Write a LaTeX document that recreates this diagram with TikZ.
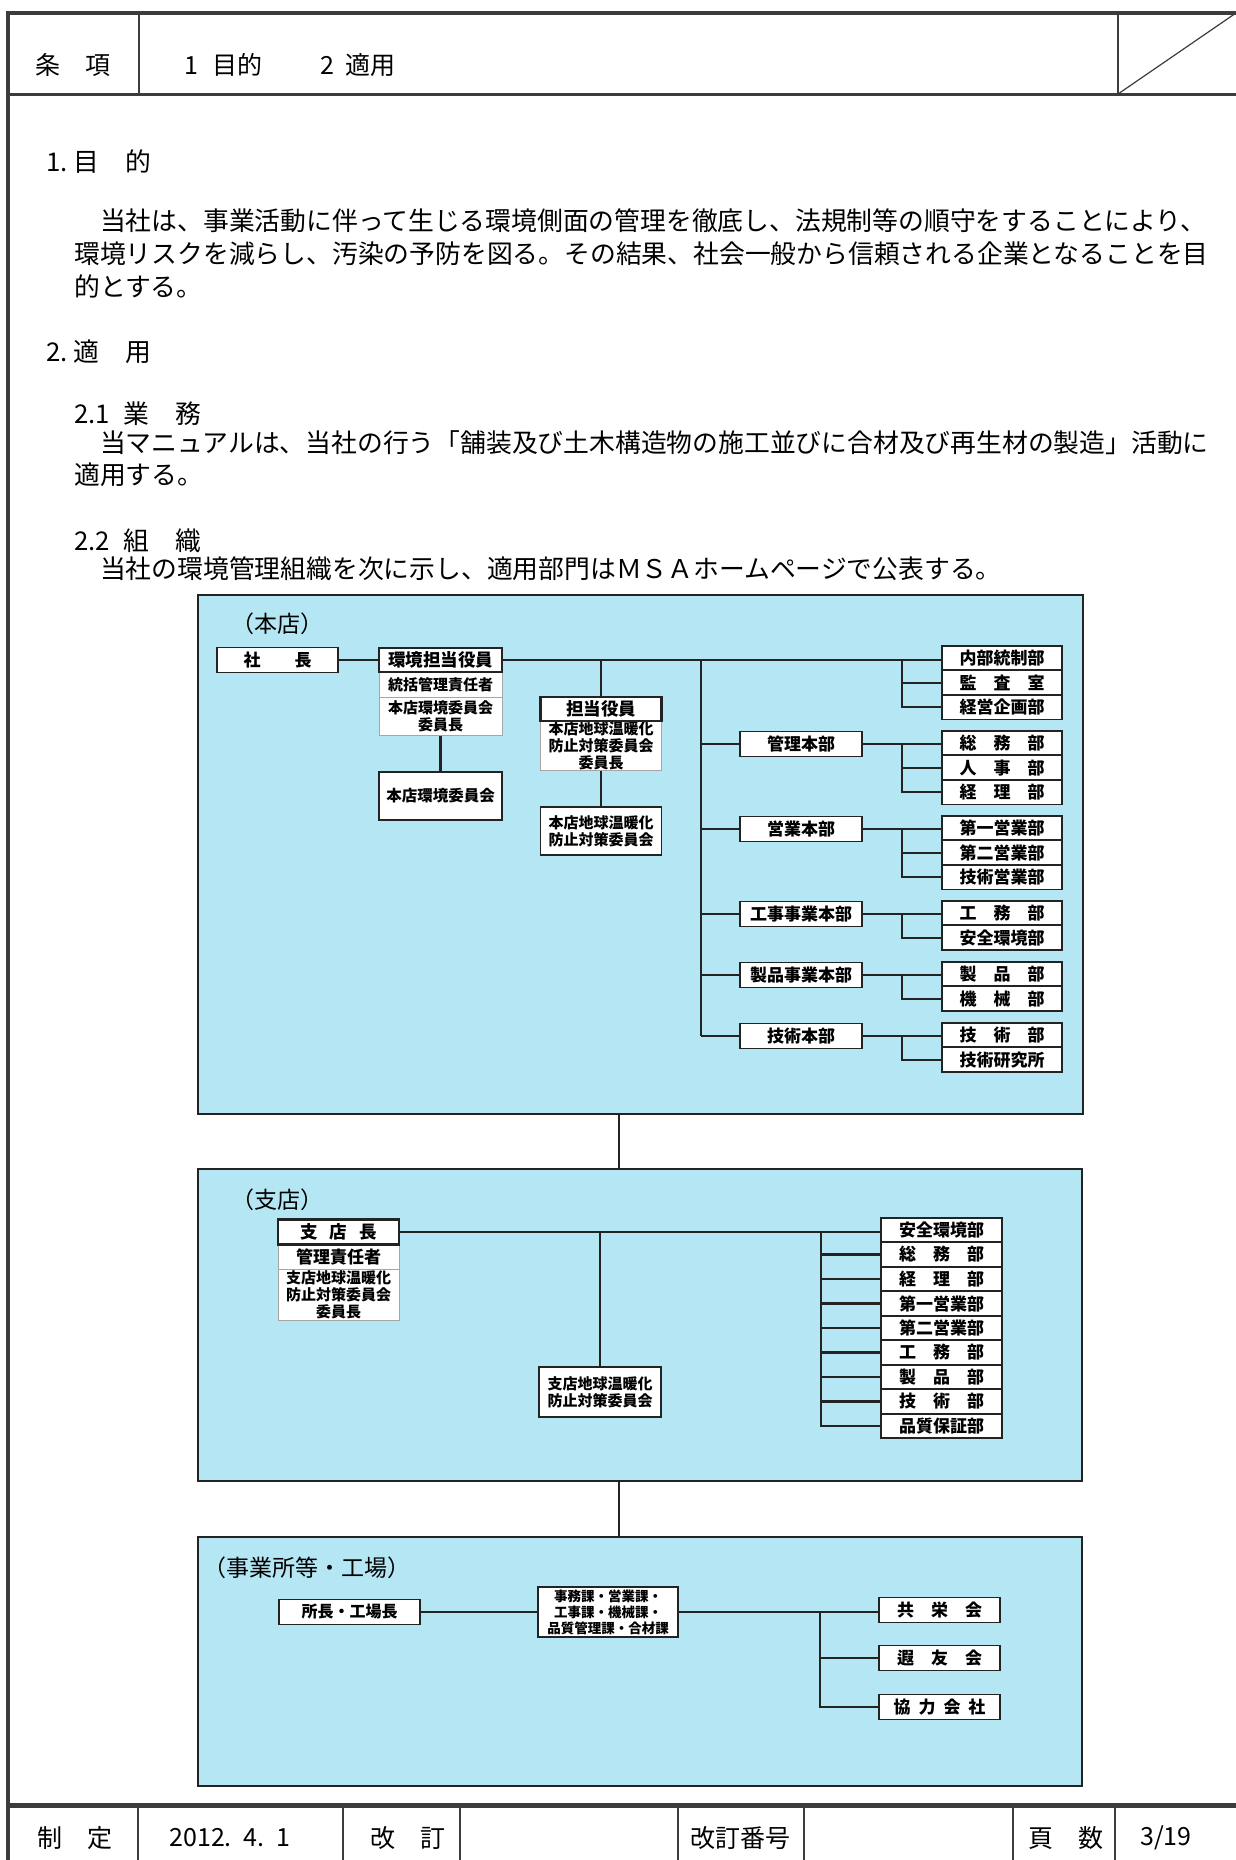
\documentclass[tikz,border=0pt]{standalone}
\usepackage{fontspec}
\setmainfont{Noto Sans CJK JP}
\definecolor{panelC}{RGB}{180,230,244}
\definecolor{lineC}{RGB}{35,35,35}
\definecolor{frameC}{RGB}{60,60,60}
\newcommand{\fsz}[2]{\fontsize{#1}{#2}\selectfont}
\begin{document}
\begin{tikzpicture}[x=1pt,y=-1pt,
  panel/.style={fill=panelC,draw=lineC,line width=2pt,anchor=north west,inner sep=0pt},
  conn/.style={draw=lineC,line width=2.2pt},
  frm/.style={draw=frameC},
  orgbox/.style={draw=lineC,fill=white,line width=1.8pt,inner sep=0pt,align=center,font=\bfseries\fsz{17}{19}},
  leadbox/.style={orgbox,line width=2.8pt,font=\bfseries\fsz{17.5}{19}},
  subbox/.style={draw=gray!70,fill=white,line width=1pt,inner sep=0pt,align=center,font=\bfseries\fsz{15}{17}},
  dept/.style={orgbox,minimum width=120pt,minimum height=24.6pt},
  hq/.style={orgbox,minimum width=122pt,minimum height=25pt},
  plabel/.style={anchor=west,inner sep=0pt,font=\fsz{23}{23}},
  body/.style={anchor=west,inner sep=0pt,font=\fsz{25.8}{28}},
  hdr/.style={inner sep=0pt,font=\fsz{25}{25}}
]
\useasboundingbox (0,0) rectangle (1236,1860);
\fill[white] (0,0) rectangle (1236,1860);

% ---------- frame ----------
\draw[frm,line width=4pt] (8,1860) -- (8,13) -- (1236,13);
\draw[frm,line width=3pt] (8,94) -- (1236,94);
\draw[frm,line width=1.5pt] (139,13) -- (139,94);
\draw[frm,line width=1.5pt] (1118,13) -- (1118,94);
\draw[frm,line width=1.2pt] (1118,94) -- (1236,13);
\draw[frm,line width=5pt] (8,1805) -- (1236,1805);
\foreach \xx in {138,343,460,678,804,1013,1115}{\draw[frm,line width=1.5pt] (\xx,1805) -- (\xx,1860);}

% header texts
\node[hdr] (hA) at (73,65) {条　項};
\node[hdr,anchor=west] (hB) at (184,65) {1\hspace{14pt}目的\hspace{58pt}2\hspace{12pt}適用};
% footer texts
\node[hdr] (fA) at (75,1838) {制　定};
\node[hdr] (fB) at (230,1838) {2012.\hspace{12pt}4.\hspace{12pt}1};
\node[hdr] (fC) at (408,1838) {改　訂};
\node[hdr] (fD) at (740,1838) {改訂番号};
\node[hdr] (fE) at (1066,1838) {頁　数};
\node[hdr] (fF) at (1166,1838) {3/19};

% ---------- body text ----------
\node[body] (t1) at (46,162) {1.\hspace{6pt}目　的};
\node[body] (t2) at (74,221) {　当社は、事業活動に伴って生じる環境側面の管理を徹底し、法規制等の順守をすることにより、};
\node[body] (t3) at (74,254) {環境リスクを減らし、汚染の予防を図る。その結果、社会一般から信頼される企業となることを目};
\node[body] (t4) at (74,286) {的とする。};
\node[body] (t5) at (46,352) {2.\hspace{6pt}適　用};
\node[body] (t6) at (74,414) {2.1\hspace{14pt}業　務};
\node[body] (t7) at (74,443) {　当マニュアルは、当社の行う「舗装及び土木構造物の施工並びに合材及び再生材の製造」活動に};
\node[body] (t8) at (74,475) {適用する。};
\node[body] (t9) at (74,541) {2.2\hspace{14pt}組　織};
\node[body] (t10) at (74,569) {　当社の環境管理組織を次に示し、適用部門はＭＳＡホームページで公表する。};

% ---------- panels ----------
\node[panel,minimum width=885pt,minimum height=519pt] (P1) at (197,594) {};
\node[panel,minimum width=884pt,minimum height=312pt] (P2) at (197,1168) {};
\node[panel,minimum width=884pt,minimum height=249pt] (P3) at (197,1536) {};
\coordinate (jx) at (619,0);
\draw[conn] (jx |- P1.south) -- (jx |- P2.north);
\draw[conn] (jx |- P2.south) -- (jx |- P3.north);

% ===== panel 1 : 本店 =====
\node[plabel] (L1) at (231,624) {（本店）};
\node[orgbox,minimum width=121pt,minimum height=25pt] (shacho) at (277.5,660) {社　　長};
\node[subbox,minimum width=123pt,minimum height=25pt] (kt2) at (440.5,684.5) {統括管理責任者};
\node[subbox,minimum width=123pt,minimum height=38pt] (kt3) at (440.5,716) {本店環境委員会\\委員長};
\node[leadbox,minimum width=123pt,minimum height=24pt] (kt) at (440.5,660) {環境担当役員};
\node[orgbox,minimum width=123pt,minimum height=48pt,font=\bfseries\fsz{15.5}{17}] (hkc) at (440.5,796) {本店環境委員会};
\node[subbox,minimum width=121pt,minimum height=49pt] (tan2) at (601,745.5) {本店地球温暖化\\防止対策委員会\\委員長};
\node[leadbox,minimum width=121pt,minimum height=24pt] (tan) at (601,709) {担当役員};
\node[orgbox,minimum width=121pt,minimum height=48pt,font=\bfseries\fsz{15}{17}] (hgw) at (601,831) {本店地球温暖化\\防止対策委員会};

% HQ divisions
\node[hq] (kanri) at (801,744) {管理本部};
\node[hq] (eigyo) at (801,829) {営業本部};
\node[hq] (koji) at (801,914) {工事事業本部};
\node[hq] (seihin) at (801,975) {製品事業本部};
\node[hq] (gijutsu) at (801,1036) {技術本部};

% departments
\node[dept] (naibu) at (1002,658) {内部統制部};
\node[dept] (kansa) at (1002,682.6) {監　査　室};
\node[dept] (keiei) at (1002,707.2) {経営企画部};
\node[dept] (soumu) at (1002,743) {総　務　部};
\node[dept] (jinji) at (1002,767.6) {人　事　部};
\node[dept] (keiri) at (1002,792.2) {経　理　部};
\node[dept] (ei1) at (1002,828) {第一営業部};
\node[dept] (ei2) at (1002,852.6) {第二営業部};
\node[dept] (gei) at (1002,877.2) {技術営業部};
\node[dept] (koumu) at (1002,913) {工　務　部};
\node[dept] (anzenA) at (1002,937.6) {安全環境部};
\node[dept] (seihinbu) at (1002,974) {製　品　部};
\node[dept] (kikai) at (1002,998.6) {機　械　部};
\node[dept] (gijutsubu) at (1002,1035) {技　術　部};
\node[dept] (kenkyu) at (1002,1059.6) {技術研究所};

% connectors panel 1
\draw[conn] (shacho) -- (kt);
\draw[conn] (kt.east) -- (kt.east -| naibu.west);
\draw[conn] (kt3) -- (hkc);
\draw[conn] (tan.north |- kt.east) -- (tan.north);
\draw[conn] (tan2) -- (hgw);
\coordinate (tr) at (701,0);
\draw[conn] (tr |- kt.east) -- (tr |- gijutsu.west);
\foreach \n in {kanri,eigyo,koji,seihin,gijutsu}{\draw[conn] (tr |- \n.west) -- (\n.west);}
\draw[conn] (kanri.east) -- (kanri.east -| soumu.west);
\draw[conn] (eigyo.east) -- (eigyo.east -| ei1.west);
\draw[conn] (koji.east) -- (koji.east -| koumu.west);
\draw[conn] (seihin.east) -- (seihin.east -| seihinbu.west);
\draw[conn] (gijutsu.east) -- (gijutsu.east -| gijutsubu.west);
\coordinate (sv) at (902,0);
\draw[conn] (sv |- kt.east) -- (sv |- keiei.west) -- (keiei.west);
\draw[conn] (sv |- kansa.west) -- (kansa.west);
\draw[conn] (sv |- kanri.east) -- (sv |- keiri.west) -- (keiri.west);
\draw[conn] (sv |- jinji.west) -- (jinji.west);
\draw[conn] (sv |- eigyo.east) -- (sv |- gei.west) -- (gei.west);
\draw[conn] (sv |- ei2.west) -- (ei2.west);
\draw[conn] (sv |- koji.east) -- (sv |- anzenA.west) -- (anzenA.west);
\draw[conn] (sv |- seihin.east) -- (sv |- kikai.west) -- (kikai.west);
\draw[conn] (sv |- gijutsu.east) -- (sv |- kenkyu.west) -- (kenkyu.west);

% ===== panel 2 : 支店 =====
\node[plabel] (L2) at (231,1200) {（支店）};
\node[subbox,minimum width=121pt,minimum height=25pt,font=\bfseries\fsz{17}{19}] (sc2) at (338.5,1257) {管理責任者};
\node[subbox,minimum width=121pt,minimum height=50.5pt] (sc3) at (338.5,1294.75) {支店地球温暖化\\防止対策委員会\\委員長};
\node[leadbox,minimum width=121pt,minimum height=25pt] (sc) at (338.5,1232) {支\hspace{12pt}店\hspace{12pt}長};
\node[orgbox,minimum width=122pt,minimum height=50pt,font=\bfseries\fsz{15}{17}] (sgw) at (600,1392) {支店地球温暖化\\防止対策委員会};
\node[dept,minimum width=121pt] (b1) at (941.5,1230) {安全環境部};
\node[dept,minimum width=121pt] (b2) at (941.5,1254.5) {総　務　部};
\node[dept,minimum width=121pt] (b3) at (941.5,1279) {経　理　部};
\node[dept,minimum width=121pt] (b4) at (941.5,1303.5) {第一営業部};
\node[dept,minimum width=121pt] (b5) at (941.5,1328) {第二営業部};
\node[dept,minimum width=121pt] (b6) at (941.5,1352.5) {工　務　部};
\node[dept,minimum width=121pt] (b7) at (941.5,1377) {製　品　部};
\node[dept,minimum width=121pt] (b8) at (941.5,1401.5) {技　術　部};
\node[dept,minimum width=121pt] (b9) at (941.5,1426) {品質保証部};
\draw[conn] (sc.east) -- (sc.east -| b1.west);
\draw[conn] (sgw.north |- sc.east) -- (sgw.north);
\coordinate (sv2) at (821,0);
\draw[conn] (sv2 |- sc.east) -- (sv2 |- b9.west) -- (b9.west);
\foreach \n in {b2,b3,b4,b5,b6,b7,b8}{\draw[conn] (sv2 |- \n.west) -- (\n.west);}

% ===== panel 3 : 事業所等・工場 =====
\node[plabel] (L3) at (203,1568) {（事業所等・工場）};
\node[orgbox,minimum width=141pt,minimum height=25pt,font=\bfseries\fsz{16}{18}] (shocho) at (349.5,1612) {所長・工場長};
\node[orgbox,minimum width=140pt,minimum height=50pt,font=\bfseries\fsz{13.5}{16}] (ka) at (608,1612) {事務課・営業課・\\工事課・機械課・\\品質管理課・合材課};
\node[dept,minimum width=121pt,minimum height=25pt] (kyoei) at (939.5,1610) {共　栄　会};
\node[dept,minimum width=121pt,minimum height=25pt] (kayu) at (939.5,1658) {遐　友　会};
\node[dept,minimum width=121pt,minimum height=25pt] (kyoryoku) at (939.5,1707) {協\hspace{8pt}力\hspace{8pt}会\hspace{8pt}社};
\draw[conn] (shocho) -- (ka);
\draw[conn] (ka.east) -- (ka.east -| kyoei.west);
\coordinate (sv3) at (820,0);
\draw[conn] (sv3 |- ka.east) -- (sv3 |- kyoryoku.west) -- (kyoryoku.west);
\draw[conn] (sv3 |- kayu.west) -- (kayu.west);
\end{tikzpicture}
\end{document}
